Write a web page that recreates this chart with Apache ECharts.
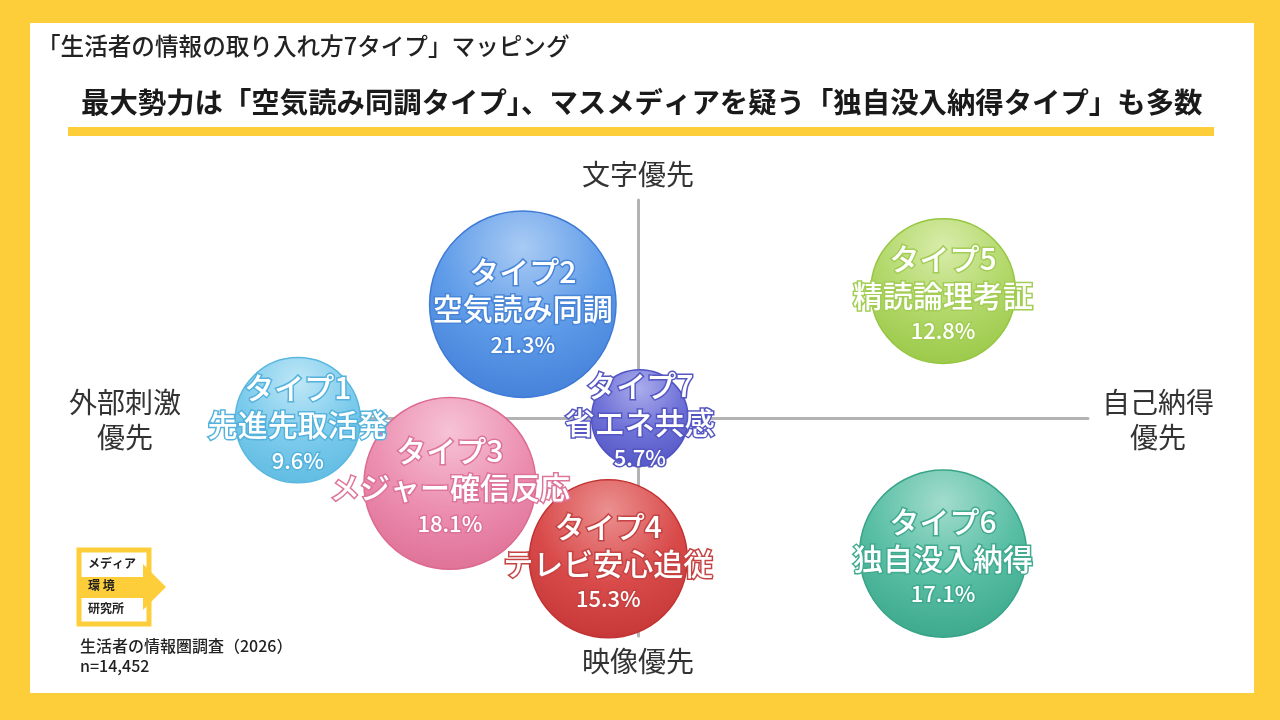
<!DOCTYPE html>
<html>
<head>
<meta charset="utf-8">
<style>
  html, body { margin: 0; padding: 0; background: #fdce3a; }
  #chart { width: 1280px; height: 720px; }
</style>
<script src="https://cdn.jsdelivr.net/npm/echarts@6/dist/echarts.min.js"></script>
</head>
<body>
<div id="chart"></div>
<script>
const typeNames = ['タイプ1', 'タイプ2', 'タイプ3', 'タイプ4', 'タイプ5', 'タイプ6', 'タイプ7'];
const typeLabels = ['先進先取活発', '空気読み同調', 'メジャー確信反応', 'テレビ安心追従', '精読論理考証', '独自没入納得', '省エネ共感'];
const shares = [9.6, 21.3, 18.1, 15.3, 12.8, 17.1, 5.7];
// position on the map: x = 外部刺激 (-) / 自己納得 (+), y = 映像 (-) / 文字 (+)
const posX = [-37.8, -12.8, -20.9, -3.3, 33.9, 33.9, 0.2];
const posY = [-0.5, 26.1, -15, -32.3, 29.1, -31.1, 0];

// light, mid, dark, outline
const palette = [
  ['#bfe7f7', '#7ccbec', '#5ab8e0', '#55b2dc'],
  ['#a9cbf4', '#5e9be8', '#3f7bd6', '#4a86d8'],
  ['#f6c3d5', '#ec8fb0', '#dc6a91', '#dd7499'],
  ['#eb9090', '#d94b4b', '#c23232', '#c64343'],
  ['#d8ecaa', '#b2d86a', '#96c641', '#a3cd55'],
  ['#a2dccd', '#58bea4', '#37a487', '#42aa90'],
  ['#aaacec', '#6e71d6', '#4f52c2', '#5557c2']
];

const FONT = '"Noto Sans CJK JP", "Noto Sans", sans-serif';
const yellow = '#fdce3a';

const bubbles = shares.map((v, i) => ({
  value: [posX[i], posY[i], v],
  itemStyle: {
    opacity: 1,
    color: {
      type: 'radial', x: 0.5, y: 0.2, r: 0.9,
      colorStops: [
        { offset: 0, color: palette[i][0] },
        { offset: 0.5, color: palette[i][1] },
        { offset: 1, color: palette[i][2] }
      ]
    },
    borderColor: palette[i][2],
    borderWidth: 1.5
  }
}));

const labels = shares.map((v, i) => ({
  value: [posX[i], posY[i], v],
  label: {
    textBorderColor: palette[i][3]
  }
}));

const chart = echarts.init(document.getElementById('chart'));

const option = {
  backgroundColor: yellow,
  animation: false,
  grid: { left: 278, right: 192, top: 200, bottom: 84 },
  xAxis: {
    type: 'value', min: -40, max: 50, z: 0,
    axisLine: { show: true, onZero: true, lineStyle: { color: '#b3b3b3', width: 3 } },
    axisTick: { show: false }, axisLabel: { show: false }, splitLine: { show: false }
  },
  yAxis: {
    type: 'value', min: -50, max: 50, z: 0,
    axisLine: { show: true, onZero: true, lineStyle: { color: '#b3b3b3', width: 3 } },
    axisTick: { show: false }, axisLabel: { show: false }, splitLine: { show: false }
  },
  graphic: [
    { type: 'rect', z: -10, shape: { x: 30, y: 23, width: 1224, height: 670 }, style: { fill: '#ffffff' } },
    { type: 'text', left: 37, top: 34, style: { text: '「生活者の情報の取り入れ方7タイプ」マッピング', font: '500 23.6px ' + FONT, fill: '#222' } },
    { type: 'text', left: 81, top: 88, style: { text: '最大勢力は「空気読み同調タイプ」、マスメディアを疑う「独自没入納得タイプ」も多数', font: 'bold 28.4px ' + FONT, fill: '#1a1a1a' } },
    { type: 'rect', shape: { x: 68, y: 127, width: 1146, height: 9 }, style: { fill: yellow } },
    // axis names
    { type: 'text', x: 638, y: 174, style: { text: '文字優先', font: '28px ' + FONT, fill: '#333', align: 'center', verticalAlign: 'middle' } },
    { type: 'text', x: 638, y: 661, style: { text: '映像優先', font: '28px ' + FONT, fill: '#333', align: 'center', verticalAlign: 'middle' } },
    { type: 'text', x: 125, y: 420, style: { text: '外部刺激\n優先', font: '28px ' + FONT, lineHeight: 35, fill: '#333', align: 'center', verticalAlign: 'middle' } },
    { type: 'text', x: 1158, y: 420, style: { text: '自己納得\n優先', font: '28px ' + FONT, lineHeight: 35, fill: '#333', align: 'center', verticalAlign: 'middle' } },
    // logo
    { type: 'rect', shape: { x: 79, y: 550, width: 70, height: 74 }, style: { fill: '#fff', stroke: yellow, lineWidth: 5 } },
    { type: 'rect', shape: { x: 79, y: 577, width: 66, height: 21 }, style: { fill: yellow } },
    { type: 'polygon', shape: { points: [[143, 564], [166, 587], [143, 610]] }, style: { fill: yellow } },
    { type: 'text', left: 88, top: 557, style: { text: 'メディア', font: 'bold 12px ' + FONT, fill: '#222' } },
    { type: 'text', left: 88, top: 579, style: { text: '環 境', font: 'bold 12px ' + FONT, fill: '#222' } },
    { type: 'text', left: 88, top: 602, style: { text: '研究所', font: 'bold 12px ' + FONT, fill: '#222' } },
    { type: 'text', left: 80, top: 638, style: { text: '生活者の情報圏調査（2026）', font: '500 16px ' + FONT, fill: '#222' } },
    { type: 'text', left: 80, top: 658, style: { text: 'n=14,452', font: '500 16px ' + FONT, fill: '#222' } }
  ],
  series: [
    {
      type: 'scatter',
      z: 10,
      symbolSize: (val) => 40.4 * Math.sqrt(val[2]),
      itemStyle: { opacity: 1 },
      data: bubbles,
      silent: true
    },
    {
      type: 'scatter',
      z: 12,
      symbolSize: 1,
      itemStyle: { color: 'rgba(0,0,0,0)', opacity: 1 },
      data: labels,
      silent: true,
      label: {
        show: true,
        position: 'inside',
        offset: [0, 3],
        color: '#fff',
        textBorderWidth: 3,
        fontFamily: FONT,
        formatter: (p) => {
          const i = p.dataIndex;
          return '{t|' + typeNames[i] + '}\n{t|' + typeLabels[i] + '}\n{p|' + shares[i].toFixed(1) + '%}';
        },
        rich: {
          t: { fontSize: 30, lineHeight: 37, color: '#fff', fontFamily: FONT, fontWeight: 500 },
          p: { fontSize: 22, lineHeight: 34, color: '#fff', fontFamily: FONT, fontWeight: 500 }
        }
      }
    }
  ]
};

chart.setOption(option);
</script>
</body>
</html>
